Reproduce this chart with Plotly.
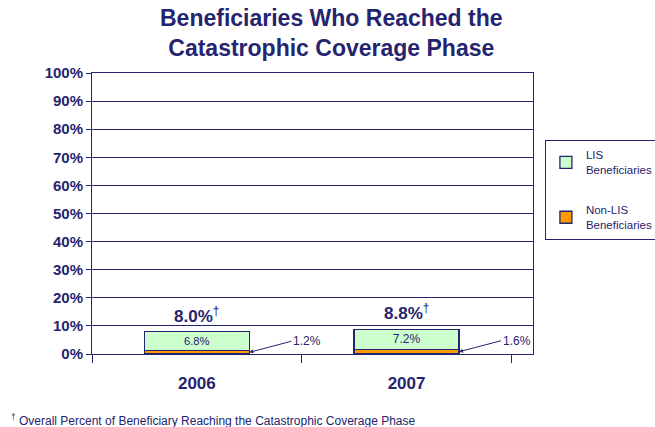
import plotly.graph_objects as go

years = ["2006", "2007"]
non_lis = [1.2, 1.6]
lis = [6.8, 7.2]
total = [8.0, 8.8]
y_ticks = [0, 10, 20, 30, 40, 50, 60, 70, 80, 90, 100]

NAVY = "#25246E"
FONT = "Arial, Liberation Sans"

fig = go.Figure()
fig.add_trace(go.Bar(
    x=years, y=non_lis, name="Non-LIS<br>Beneficiaries", legendgroup="b",
    legendrank=2,
    marker=dict(color="#FF9900", line=dict(color=NAVY, width=1.3)),
))
fig.add_trace(go.Bar(
    x=years, y=lis, name="LIS<br>Beneficiaries", legendgroup="a",
    legendrank=1,
    marker=dict(color="#CCFFCC", line=dict(color=NAVY, width=1.3)),
    text=[f"{v:.1f}%" for v in lis], textposition="inside",
    insidetextanchor="middle",
    textfont=dict(color=NAVY, size=12, family=FONT),
))

annotations = []
for i, (yr, t, n, l) in enumerate(zip(years, total, non_lis, lis)):
    annotations.append(dict(
        x=i, y=t, xref="x", yref="y", text=f"<b>{t:.1f}%</b><sup>†</sup>",
        showarrow=False, yanchor="bottom", yshift=4,
        font=dict(size=17, color=NAVY, family=FONT),
    ))
    annotations.append(dict(
        x=i + 0.25, y=n / 2, xref="x", yref="y", text=f"{n:.1f}%",
        showarrow=True, arrowhead=2, arrowsize=0.8, arrowwidth=1,
        arrowcolor=NAVY, ax=42, ay=-11, xanchor="left",
        font=dict(size=12, color=NAVY, family=FONT),
    ))

annotations.append(dict(
    x=0.542, y=1.25, xref="paper", yref="paper",
    text="<b>Beneficiaries Who Reached the<br>Catastrophic Coverage Phase</b>",
    showarrow=False, xanchor="center", yanchor="top",
    font=dict(size=23, color=NAVY, family=FONT),
))
annotations.append(dict(
    x=-0.188, y=-0.235, xref="paper", yref="paper",
    text="<sup>†</sup> Overall Percent of Beneficiary Reaching the Catastrophic Coverage Phase",
    showarrow=False, xanchor="left", yanchor="middle",
    font=dict(size=12, color=NAVY, family=FONT),
))

fig.update_layout(
    width=655, height=427,
    margin=dict(l=92, r=122, t=73, b=73, autoexpand=False),
    paper_bgcolor="white", plot_bgcolor="white",
    barmode="stack", bargap=0.5,
    font=dict(family=FONT, color=NAVY),
    showlegend=True,
    legend=dict(
        x=1.027, y=0.762, xanchor="left", yanchor="top",
        traceorder="grouped",
        bordercolor=NAVY, borderwidth=1,
        font=dict(size=11.5, color=NAVY),
        tracegroupgap=22,
        itemwidth=30,
    ),
    annotations=annotations,
    xaxis=dict(
        automargin=False,
        showline=True, linecolor=NAVY, linewidth=1, mirror=True,
        ticks="outside", tickson="boundaries", ticklen=8, tickcolor=NAVY,
        tickfont=dict(size=17, color=NAVY, family=FONT),
        ticklabelstandoff=14,
        showgrid=False,
        ticktext=[f"<b>{y}</b>" for y in years], tickvals=years,
    ),
    yaxis=dict(
        automargin=False,
        range=[0, 100], tickvals=y_ticks,
        ticktext=[f"<b>{v}%</b>" for v in y_ticks],
        showline=True, linecolor=NAVY, linewidth=1, mirror=True,
        ticks="outside", ticklen=5, tickcolor=NAVY,
        showgrid=True, gridcolor=NAVY, gridwidth=1,
        tickfont=dict(size=15, color=NAVY),
    ),
)

fig.write_html("out.html", config={"displayModeBar": False},
               post_script="document.body.style.margin='0';")
